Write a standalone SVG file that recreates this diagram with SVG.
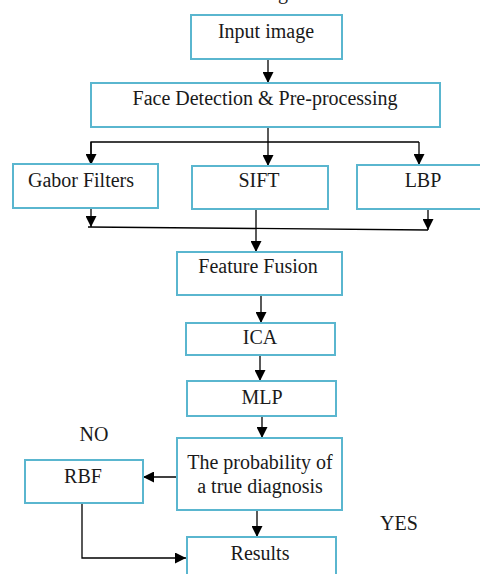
<svg xmlns="http://www.w3.org/2000/svg" width="480" height="574" viewBox="0 0 480 574">
  <style>
    .box { fill: #ffffff; stroke: #5ab6cf; stroke-width: 2; }
    .lbl { font-family: "Liberation Serif", "DejaVu Serif", serif !important; font-size: 20px; fill: #1a1a1a; text-anchor: middle; }
    .wire { fill: none; stroke: #000000; stroke-width: 1.3; }
  </style>
  <defs>
    <marker id="arrow" markerUnits="userSpaceOnUse" markerWidth="11" markerHeight="11" refX="11" refY="5.5" orient="auto">
      <path d="M0,0 L11,5.5 L0,11 z" fill="#000000"/>
    </marker>
  </defs>

  <rect width="480" height="574" fill="#ffffff"/>

  <!-- descender of the caption line above the figure -->
  <text class="lbl" x="283" y="-1" style="font-family:'Liberation Serif',serif">g</text>

  <g id="connectors">
    <line class="wire" x1="268" y1="59" x2="268" y2="83" marker-end="url(#arrow)"/>
    <line class="wire" x1="268" y1="127" x2="268" y2="166" marker-end="url(#arrow)"/>
    <polyline class="wire" points="91,166 91,142 419,142"/>
    <line class="wire" x1="91" y1="142" x2="91" y2="165" marker-end="url(#arrow)"/>
    <line class="wire" x1="419" y1="142" x2="419" y2="165" marker-end="url(#arrow)"/>
    <line class="wire" x1="91" y1="208" x2="91" y2="227" marker-end="url(#arrow)"/>
    <line class="wire" x1="428" y1="209" x2="428" y2="230" marker-end="url(#arrow)"/>
    <line class="wire" x1="88" y1="227" x2="428" y2="230"/>
    <line class="wire" x1="256" y1="209" x2="256" y2="252" marker-end="url(#arrow)"/>
    <line class="wire" x1="261" y1="295" x2="261" y2="323" marker-end="url(#arrow)"/>
    <line class="wire" x1="260" y1="355" x2="260" y2="381" marker-end="url(#arrow)"/>
    <line class="wire" x1="262" y1="416" x2="262" y2="438" marker-end="url(#arrow)"/>
    <line class="wire" x1="177" y1="477" x2="143" y2="477" marker-end="url(#arrow)"/>
    <line class="wire" x1="257" y1="510" x2="257" y2="537" marker-end="url(#arrow)"/>
    <polyline class="wire" points="82,503 82,558 186,558" marker-end="url(#arrow)"/>
  </g>

  <g id="input">
    <rect class="box" x="191" y="15" width="151" height="44"/>
    <text class="lbl" x="266" y="38" style="font-family:'Liberation Serif',serif">Input image</text>
  </g>
  <g id="face">
    <rect class="box" x="91" y="83" width="349" height="44"/>
    <text class="lbl" x="265" y="105" style="font-family:'Liberation Serif',serif">Face Detection &amp; Pre-processing</text>
  </g>
  <g id="gabor">
    <rect class="box" x="13" y="164" width="145" height="44"/>
    <text class="lbl" x="81" y="187" style="font-family:'Liberation Serif',serif">Gabor Filters</text>
  </g>
  <g id="sift">
    <rect class="box" x="192" y="166" width="136" height="43"/>
    <text class="lbl" x="259" y="187" style="font-family:'Liberation Serif',serif">SIFT</text>
  </g>
  <g id="lbp">
    <rect class="box" x="357" y="165" width="140" height="44"/>
    <text class="lbl" x="423" y="187" style="font-family:'Liberation Serif',serif">LBP</text>
  </g>
  <g id="fusion">
    <rect class="box" x="177" y="252" width="165" height="43"/>
    <text class="lbl" x="258" y="273" style="font-family:'Liberation Serif',serif">Feature Fusion</text>
  </g>
  <g id="ica">
    <rect class="box" x="186" y="323" width="149" height="32"/>
    <text class="lbl" x="260" y="344" style="font-family:'Liberation Serif',serif">ICA</text>
  </g>
  <g id="mlp">
    <rect class="box" x="187" y="381" width="149" height="35"/>
    <text class="lbl" x="262" y="404" style="font-family:'Liberation Serif',serif">MLP</text>
  </g>
  <g id="decision">
    <rect class="box" x="177" y="438" width="165" height="72"/>
    <text class="lbl" x="260" y="469" style="font-family:'Liberation Serif',serif">The probability of</text>
    <text class="lbl" x="260" y="493" style="font-family:'Liberation Serif',serif">a true diagnosis</text>
  </g>
  <g id="rbf">
    <rect class="box" x="25" y="460" width="118" height="43"/>
    <text class="lbl" x="83" y="483" style="font-family:'Liberation Serif',serif">RBF</text>
  </g>
  <g id="results">
    <rect class="box" x="187" y="537" width="149" height="45"/>
    <text class="lbl" x="260" y="560" style="font-family:'Liberation Serif',serif">Results</text>
  </g>

  <text class="lbl" x="94" y="441" style="font-family:'Liberation Serif',serif">NO</text>
  <text class="lbl" x="399" y="530" style="font-family:'Liberation Serif',serif">YES</text>
</svg>
